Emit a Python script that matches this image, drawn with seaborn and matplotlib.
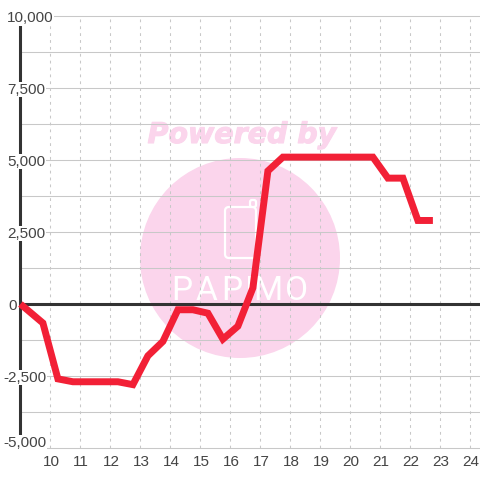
import matplotlib
matplotlib.use('Agg')
import matplotlib.pyplot as plt
import matplotlib.patheffects as pe
import pandas as pd
import seaborn as sns
from matplotlib.patches import Circle, FancyBboxPatch
from matplotlib.transforms import IdentityTransform

# Chart data
hours = [9, 9.75, 10.25, 10.75, 11.25, 11.75, 12.25, 12.75, 13.25, 13.75, 14.25, 14.75,
         15.25, 15.75, 16.25, 16.75, 17.25, 17.75, 18.25, 18.75, 19.25, 19.75, 20.25,
         20.75, 21.25, 21.75, 22.25, 22.75]
values = [0, -660, -2600, -2700, -2700, -2700, -2700, -2800, -1800, -1300, -200, -200,
          -320, -1220, -770, 560, 4620, 5100, 5100, 5100, 5100, 5100, 5100,
          5100, 4370, 4370, 2900, 2900]
y_major = [10000, 7500, 5000, 2500, 0, -2500, -5000]
y_minor = [8750, 6250, 3750, 1250, -1250, -3750]
x_ticks = [10, 11, 12, 13, 14, 15, 16, 17, 18, 19, 20, 21, 22, 23, 24]

sns.set_theme(style='white')
plt.rcParams['font.family'] = ['Liberation Sans', 'DejaVu Sans']

GRID = '#c8c8c8'
DARK = '#333333'
TEXT = '#444444'
PINK = '#fbd5ec'

fig = plt.figure(figsize=(4.8, 4.8), dpi=100)
ax = fig.add_axes([0, 0, 1, 1])
ax.axis('off')

# axes fill the figure, so limits are chosen to put the plot area in place
ax.set_xlim(9 - 20.4 / 30, 9 + 459.6 / 30)
ax.set_ylim(-176 / 0.0288, 304 / 0.0288)


def px(x, y):
    return x, 480 - y


# Watermark behind the grid
pix = IdentityTransform()
ax.add_patch(Circle(px(240, 258), 100, transform=pix, color=PINK, lw=0, zorder=1))
ax.add_patch(FancyBboxPatch(px(225, 258), 31, 51, boxstyle='round,pad=0,rounding_size=4',
                            transform=pix, fc='none', ec='white', lw=1.6, zorder=1.1))
ax.add_patch(FancyBboxPatch(px(250, 207), 6, 7, boxstyle='round,pad=0,rounding_size=2',
                            transform=pix, fc=PINK, ec='white', lw=1.6, zorder=1.1))
for letter, x in zip('PAPIMO', [182, 206, 232, 250, 268, 297]):
    ax.text(*px(x, 291), letter, transform=pix, color='white', fontsize=24, family='Roboto',
            ha='center', va='center', zorder=1.2)
ax.text(*px(242, 135), 'Powered by', transform=pix, color=PINK, fontsize=20.5, family='DejaVu Sans',
        fontweight='bold', fontstyle='italic', ha='center', va='center', zorder=1,
        path_effects=[pe.withStroke(linewidth=0.8, foreground=PINK)])

# Grid
for v in y_major + y_minor:
    ax.plot([9, ax.get_xlim()[1]], [v, v], color=GRID, lw=0.75, zorder=2)
for h in x_ticks:
    ax.plot([h, h], [-5000, 10000], color=GRID, lw=0.75, ls=(0, (2.7, 3.9)), zorder=2)

# Axis lines
ax.plot([9, 9], [-5000, 10000], color=DARK, lw=2.2, solid_capstyle='butt', zorder=3)
ax.plot([9, ax.get_xlim()[1]], [0, 0], color=DARK, lw=2.2, solid_capstyle='butt', zorder=3)

# Tick labels
for v in y_major:
    x = 3 if v < 0 else (8 if v == 0 else 7)
    if v == -5000:
        y = 443
    elif v == 10000:
        y = 18
    else:
        y = 304 - v * 0.0288 + 1.5
    ax.text(*px(x, y), f'{v:,}', transform=pix, color=TEXT, fontsize=11, ha='left', va='center',
            zorder=4, bbox=dict(fc='white', ec='none', pad=0.6))
for h in x_ticks:
    ax.annotate(str(h), xy=(h, -5000), xytext=(0.5, -14), textcoords='offset pixels', color=TEXT,
                fontsize=11, ha='center', va='center', zorder=4)

# Main line
df = pd.DataFrame({'hour': hours, 'value': values})
sns.lineplot(data=df, x='hour', y='value', ax=ax, color='#f22036', linewidth=5, errorbar=None,
             estimator=None, sort=False, zorder=5, solid_joinstyle='miter', solid_capstyle='butt')
ax.set_xlabel('')
ax.set_ylabel('')

fig.savefig('out.png', dpi=100)
